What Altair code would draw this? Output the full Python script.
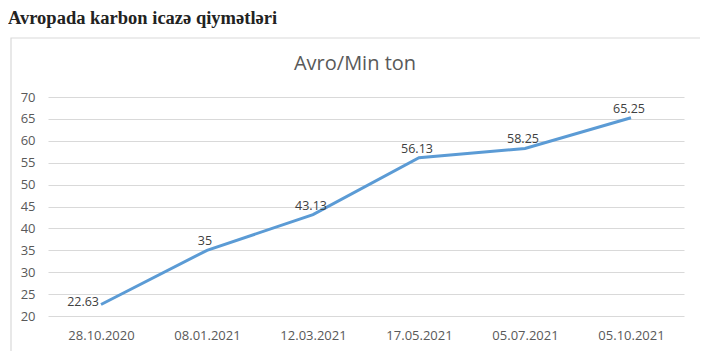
import altair as alt
import pandas as pd

dates = ["28.10.2020", "08.01.2021", "12.03.2021", "17.05.2021", "05.07.2021", "05.10.2021"]
prices = [22.63, 35, 43.13, 56.13, 58.25, 65.25]
y_ticks = [20, 25, 30, 35, 40, 45, 50, 55, 60, 65, 70]

page_title = "Avropada karbon icazə qiymətləri"
chart_title = "Avro/Min ton"

df = pd.DataFrame({"date": dates, "price": prices})
one = pd.DataFrame({"k": [0]})

FONT = "Open Sans"
GRAY = "#595959"

x_enc = alt.X("date:N", sort=dates, scale=alt.Scale(type="point", padding=0.5),
              axis=alt.Axis(title=None, labelAngle=0, labelFont=FONT, labelFontSize=13, labelColor=GRAY,
                            labelPadding=13, domain=False, ticks=False, grid=False))
y_enc = alt.Y("price:Q", scale=alt.Scale(domain=[20, 70], nice=False, zero=False),
              axis=alt.Axis(title=None, values=y_ticks, tickCount=11, labelOverlap=False,
                            labelFont=FONT, labelFontSize=13, labelColor=GRAY,
                            labelPadding=13, domain=False, ticks=False, grid=True, gridColor="#d9d9d9",
                            gridWidth=1))

frame = alt.Chart(one).mark_rect(fill=None, stroke="#d9d9d9", strokeWidth=1.2).encode(
    x=alt.value(-37), x2=alt.value(653), y=alt.value(-59), y2=alt.value(270)
)

line = alt.Chart(df).mark_line(color="#5B9BD5", strokeWidth=3).encode(x=x_enc, y=y_enc)

lab_first = alt.Chart(df).transform_filter(alt.datum.date == dates[0]).mark_text(
    font=FONT, fontSize=12.5, color="#404040", align="right", baseline="middle", dx=-2, dy=-2
).encode(x=alt.X("date:N", sort=dates), y="price:Q", text=alt.Text("price:Q"))

lab_rest = alt.Chart(df).transform_filter(alt.datum.date != dates[0]).mark_text(
    font=FONT, fontSize=12.5, color="#404040", align="center", baseline="middle", dx=-2, dy=-9
).encode(x=alt.X("date:N", sort=dates), y="price:Q", text=alt.Text("price:Q"))

t_chart = alt.Chart(one).mark_text(
    text=chart_title, font=FONT, fontSize=20, color=GRAY, align="center", baseline="alphabetic"
).encode(x=alt.value(307), y=alt.value(-27))

t_page = alt.Chart(one).mark_text(
    text=page_title, font="Liberation Serif", fontSize=18.5, fontWeight="bold", color="#222222",
    align="left", baseline="alphabetic"
).encode(x=alt.value(-40), y=alt.value(-73))

chart = alt.layer(frame, line, lab_first, lab_rest, t_chart, t_page).properties(
    width=636, height=219,
    padding={"left": 40, "top": 89, "right": 16, "bottom": 35},
    autosize=alt.AutoSizeParams(type="none"),
    background="white",
).configure_view(stroke=None)

chart.save("out.html", embed_options={"renderer": "svg", "actions": False})
